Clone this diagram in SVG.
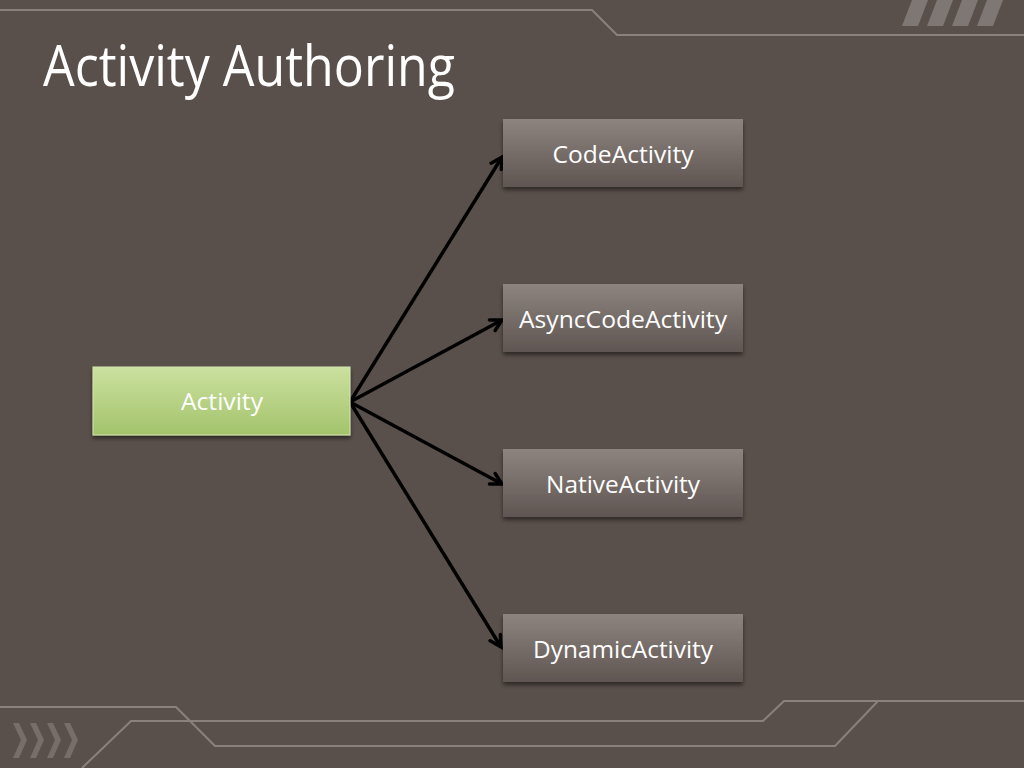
<svg xmlns="http://www.w3.org/2000/svg" width="1024" height="768" viewBox="0 0 1024 768">
<defs>
<linearGradient id="gBox" x1="0" y1="0" x2="0" y2="1">
<stop offset="0" stop-color="#8d8480"/>
<stop offset="1" stop-color="#5f5551"/>
</linearGradient>
<linearGradient id="gGreen" x1="0" y1="0" x2="0" y2="1">
<stop offset="0" stop-color="#cbe1a0"/>
<stop offset="1" stop-color="#a3c36b"/>
</linearGradient>
<filter id="sh" x="-10%" y="-20%" width="120%" height="150%">
<feDropShadow dx="0" dy="3" stdDeviation="2" flood-color="#000" flood-opacity="0.5"/>
</filter>
<marker id="arr" viewBox="0 0 16 16" refX="13" refY="8" markerWidth="16" markerHeight="16" markerUnits="userSpaceOnUse" orient="auto">
<path d="M2,2 L13,8 L2,14" fill="none" stroke="#000" stroke-width="3.5" stroke-linecap="round" stroke-linejoin="miter"/>
</marker>
<style>
.deco{fill:none;stroke:#8a817d;stroke-width:2}
.stripe{fill:#7f7773}
.box{fill:url(#gBox);filter:url(#sh)}
.green{fill:url(#gGreen);filter:url(#sh);stroke:#d4e6b0;stroke-width:1}
.lbl{font-family:"Open Sans","Noto Sans",sans-serif;font-size:23px;fill:#ffffff;text-anchor:middle}
.conn{fill:none;stroke:#000;stroke-width:3.5;marker-end:url(#arr)}
</style>
</defs>
<rect x="0" y="0" width="1024" height="768" fill="#5a504b"/>
<g id="decoration">
<path class="deco" d="M0,10 H592 L617,35 H1024"/>
<polygon class="stripe" points="912,0 928,0 918,26 902,26"/>
<polygon class="stripe" points="937,0 953,0 943,26 927,26"/>
<polygon class="stripe" points="962,0 978,0 968,26 952,26"/>
<polygon class="stripe" points="987,0 1003,0 993,26 977,26"/>
<path class="deco" d="M0,707 H176 L215,746 H835 L878,701 H1024"/>
<path class="deco" d="M82,768 L131,721 H763 L784,701 H878"/>
<g fill="#776d69">
<polygon points="13,723 19,723 27,740 19,758 13,758 21,740"/>
<polygon points="30,723 36,723 44,740 36,758 30,758 38,740"/>
<polygon points="47,723 53,723 61,740 53,758 47,758 55,740"/>
<polygon points="64,723 70,723 78,740 70,758 64,758 72,740"/>
</g>
</g>
<text id="title" x="43" y="86" font-family="'Open Sans','Noto Sans',sans-serif" font-size="56" fill="#ffffff" textLength="412" lengthAdjust="spacingAndGlyphs">Activity Authoring</text>
<g id="connectors">
<path class="conn" d="M350,402 L502,157"/>
<path class="conn" d="M350,402 L502,320"/>
<path class="conn" d="M350,402 L502,484"/>
<path class="conn" d="M350,402 L501,647"/>
</g>
<g id="node-activity">
<rect class="green" x="93" y="367" width="257" height="68"/>
<text class="lbl" x="222" y="410" textLength="82" lengthAdjust="spacingAndGlyphs">Activity</text>
</g>
<g id="node-codeactivity">
<rect class="box" x="503" y="119" width="240" height="68"/>
<text class="lbl" x="623" y="163" textLength="141" lengthAdjust="spacingAndGlyphs">CodeActivity</text>
</g>
<g id="node-asynccodeactivity">
<rect class="box" x="503" y="284" width="240" height="68"/>
<text class="lbl" x="623" y="328" textLength="208" lengthAdjust="spacingAndGlyphs">AsyncCodeActivity</text>
</g>
<g id="node-nativeactivity">
<rect class="box" x="503" y="449" width="240" height="68"/>
<text class="lbl" x="623" y="493" textLength="154" lengthAdjust="spacingAndGlyphs">NativeActivity</text>
</g>
<g id="node-dynamicactivity">
<rect class="box" x="503" y="614" width="240" height="68"/>
<text class="lbl" x="623" y="658" textLength="180" lengthAdjust="spacingAndGlyphs">DynamicActivity</text>
</g>
</svg>
